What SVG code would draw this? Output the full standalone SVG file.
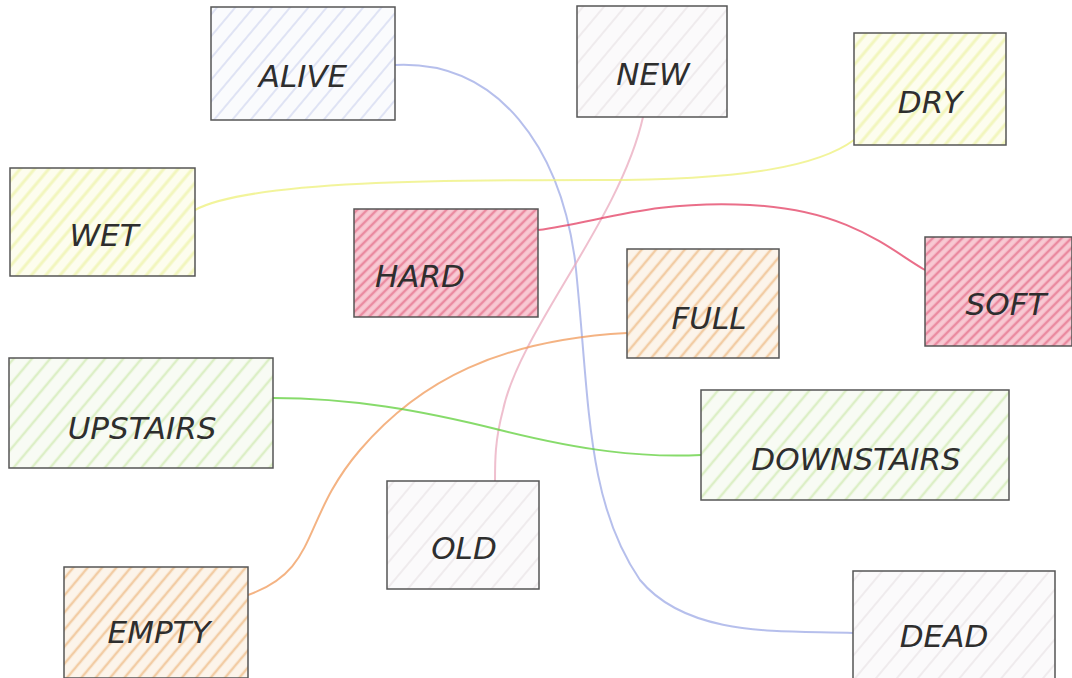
<svg xmlns="http://www.w3.org/2000/svg" width="1072" height="678" viewBox="0 0 1072 678">
<style>
.box{stroke:#555;stroke-width:1.5}
.lbl{font-family:"DejaVu Sans","Liberation Sans",sans-serif;font-style:italic;font-size:31px;fill:#2e2e2e;text-anchor:middle;dominant-baseline:central}
.con{fill:none;stroke-width:2;stroke-linecap:round;opacity:0.75}
</style>
<defs>
<pattern id="hBlue" width="14" height="14" patternUnits="userSpaceOnUse" patternTransform="rotate(-50)"><rect width="14" height="14" fill="#fafbfd"/><line x1="0" y1="3" x2="14" y2="3" stroke="#d6dcf2" stroke-width="1.5"/></pattern>
<pattern id="hGrey" width="16" height="16" patternUnits="userSpaceOnUse" patternTransform="rotate(-50)"><rect width="16" height="16" fill="#fbfafb"/><line x1="0" y1="3" x2="16" y2="3" stroke="#ebe6e9" stroke-width="1.5"/></pattern>
<pattern id="hPink" width="7" height="7" patternUnits="userSpaceOnUse" patternTransform="rotate(-45)"><rect width="7" height="7" fill="#f8c9d3"/><line x1="0" y1="2" x2="7" y2="2" stroke="#ea8aa0" stroke-width="2.5"/></pattern>
<pattern id="hOrange" width="11" height="11" patternUnits="userSpaceOnUse" patternTransform="rotate(-50)"><rect width="11" height="11" fill="#fcf4ea"/><line x1="0" y1="3" x2="11" y2="3" stroke="#f2cca4" stroke-width="2.5"/></pattern>
<pattern id="hYellow" width="11" height="11" patternUnits="userSpaceOnUse" patternTransform="rotate(-50)"><rect width="11" height="11" fill="#fdfdee"/><line x1="0" y1="3" x2="11" y2="3" stroke="#f2f6bd" stroke-width="3"/></pattern>
<pattern id="hGreen" width="14" height="14" patternUnits="userSpaceOnUse" patternTransform="rotate(-50)"><rect width="14" height="14" fill="#f8fbf4"/><line x1="0" y1="3" x2="14" y2="3" stroke="#dcefc6" stroke-width="2.5"/></pattern>
</defs>
<rect width="1072" height="678" fill="#ffffff"/>
<g id="connectors">
<path class="con" stroke="#9eaae6" d="M395,65 C500,60 560,150 575,260 C590,400 585,500 640,580 C690,640 790,630 853,633"/>
<path class="con" stroke="#e9a9bd" d="M643,117 C620,220 520,330 503,410 C495,440 495,460 495,481"/>
<path class="con" stroke="#eef07a" d="M195,210 C250,180 450,180 600,180 C750,180 820,165 854,140"/>
<path class="con" stroke="#e33d62" d="M538,230 C600,222 650,200 750,205 C850,210 890,250 925,270"/>
<path class="con" stroke="#f09a5a" d="M627,333 C500,340 420,380 360,450 C300,520 320,570 248,595"/>
<path class="con" stroke="#5fcf3a" d="M273,398 C350,398 420,410 500,430 C580,450 640,458 701,455"/>
</g>
<g id="alive"><rect class="box" x="211" y="7" width="184" height="113" fill="url(#hBlue)"/><text class="lbl" x="303" y="76">ALIVE</text></g>
<g id="new"><rect class="box" x="577" y="6" width="150" height="111" fill="url(#hGrey)"/><text class="lbl" x="653" y="74">NEW</text></g>
<g id="dry"><rect class="box" x="854" y="33" width="152" height="112" fill="url(#hYellow)"/><text class="lbl" x="930" y="102">DRY</text></g>
<g id="wet"><rect class="box" x="10" y="168" width="185" height="108" fill="url(#hYellow)"/><text class="lbl" x="104" y="235">WET</text></g>
<g id="hard"><rect class="box" x="354" y="209" width="184" height="108" fill="url(#hPink)"/><text class="lbl" x="420" y="276">HARD</text></g>
<g id="soft"><rect class="box" x="925" y="237" width="147" height="109" fill="url(#hPink)"/><text class="lbl" x="1006" y="304">SOFT</text></g>
<g id="full"><rect class="box" x="627" y="249" width="152" height="109" fill="url(#hOrange)"/><text class="lbl" x="709" y="318">FULL</text></g>
<g id="upstairs"><rect class="box" x="9" y="358" width="264" height="110" fill="url(#hGreen)"/><text class="lbl" x="142" y="428">UPSTAIRS</text></g>
<g id="downstairs"><rect class="box" x="701" y="390" width="308" height="110" fill="url(#hGreen)"/><text class="lbl" x="856" y="459">DOWNSTAIRS</text></g>
<g id="old"><rect class="box" x="387" y="481" width="152" height="108" fill="url(#hGrey)"/><text class="lbl" x="464" y="548">OLD</text></g>
<g id="empty"><rect class="box" x="64" y="567" width="184" height="111" fill="url(#hOrange)"/><text class="lbl" x="159" y="632">EMPTY</text></g>
<g id="dead"><rect class="box" x="853" y="571" width="202" height="109" fill="url(#hGrey)"/><text class="lbl" x="944" y="636">DEAD</text></g>
</svg>
